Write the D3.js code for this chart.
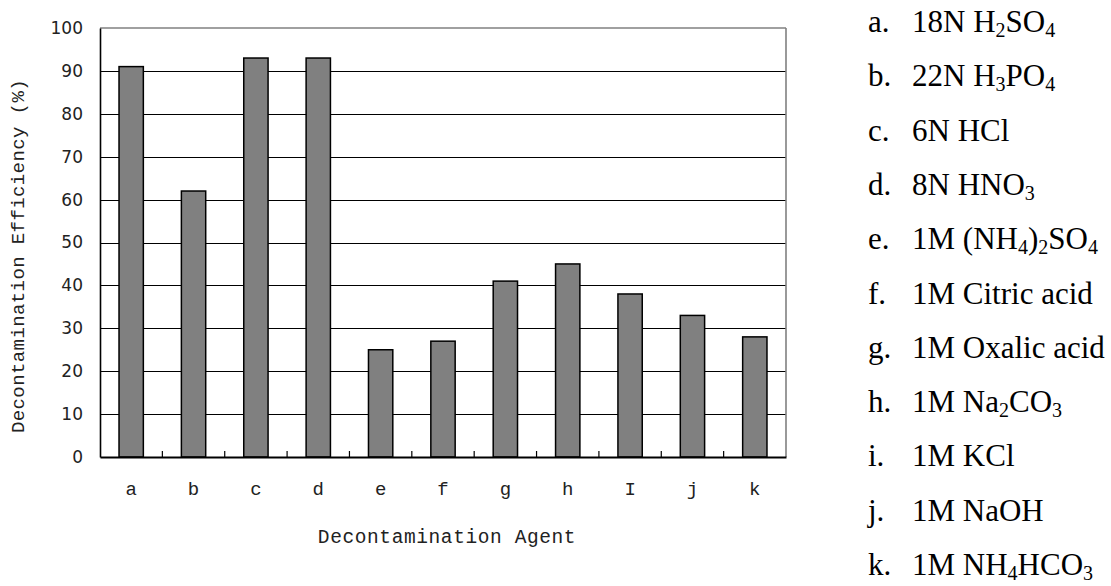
<!DOCTYPE html>
<html>
<head>
<meta charset="utf-8">
<script src="https://cdn.jsdelivr.net/npm/d3@7"></script>
<style>
html, body { margin: 0; padding: 0; background: #fff; }
svg { display: block; }
</style>
</head>
<body>
<svg id="chart" width="1111" height="586"></svg>
<script>
// ---- data ----
const categories = ["a", "b", "c", "d", "e", "f", "g", "h", "I", "j", "k"];
const values = [91, 62, 93, 93, 25, 27, 41, 45, 38, 33, 28];
const yTicks = [0, 10, 20, 30, 40, 50, 60, 70, 80, 90, 100];
const legendKeys = ["a.", "b.", "c.", "d.", "e.", "f.", "g.", "h.", "i.", "j.", "k."];
const legendLabels = [
  "18N H_2SO_4",
  "22N H_3PO_4",
  "6N HCl",
  "8N HNO_3",
  "1M (NH_4)_2SO_4",
  "1M Citric acid",
  "1M Oxalic acid",
  "1M Na_2CO_3",
  "1M KCl",
  "1M NaOH",
  "1M NH_4HCO_3"
];
const xTitle = "Decontamination Agent";
const yTitle = "Decontamination Efficiency (%)";

// ---- layout ----
const plot = { left: 100, right: 786, top: 28, bottom: 457 };
const svg = d3.select("#chart");

const x = d3.scaleBand()
  .domain(categories)
  .range([plot.left, plot.right])
  .paddingInner(0.61)
  .paddingOuter(0.305);

const xCat = d3.scaleBand().domain(categories).range([plot.left, plot.right]).padding(0);

const y = d3.scaleLinear().domain([0, 100]).range([plot.bottom, plot.top]);

// gridlines
svg.append("g")
  .selectAll("line")
  .data(yTicks.filter(t => t > 0 && t < 100))
  .join("line")
  .attr("x1", plot.left)
  .attr("x2", plot.right)
  .attr("y1", d => Math.round(y(d)) + 0.5)
  .attr("y2", d => Math.round(y(d)) + 0.5)
  .attr("stroke", "#000")
  .attr("stroke-width", 1);

// top & right border (gray)
svg.append("line")
  .attr("x1", plot.left).attr("x2", plot.right)
  .attr("y1", y(100)).attr("y2", y(100))
  .attr("stroke", "#808080").attr("stroke-width", 1.6);
svg.append("line")
  .attr("x1", plot.right).attr("x2", plot.right)
  .attr("y1", y(100)).attr("y2", y(0))
  .attr("stroke", "#808080").attr("stroke-width", 1.6);

// bars
svg.append("g")
  .selectAll("rect")
  .data(values)
  .join("rect")
  .attr("x", (d, i) => x(categories[i]))
  .attr("width", x.bandwidth())
  .attr("y", d => y(d))
  .attr("height", d => y(0) - y(d))
  .attr("fill", "#808080")
  .attr("stroke", "#000")
  .attr("stroke-width", 1.5);

// y axis
const yAxis = d3.axisLeft(y).tickValues(yTicks).tickSize(0).tickPadding(17);
const yg = svg.append("g").attr("transform", `translate(${plot.left},0)`).call(yAxis);
yg.select(".domain").attr("stroke", "#000").attr("stroke-width", 1.6);
yg.selectAll("text")
  .attr("font-family", "DejaVu Sans")
  .attr("font-size", 17)
  .attr("fill", "#222");

// x axis
const xAxis = d3.axisBottom(xCat).tickSize(0).tickPadding(25);
const xg = svg.append("g").attr("transform", `translate(0,${plot.bottom})`).call(xAxis);
xg.select(".domain").attr("stroke", "#000").attr("stroke-width", 2);
xg.selectAll("text")
  .attr("font-family", "Liberation Mono")
  .attr("font-size", 19)
  .attr("fill", "#222");

// interior tick marks at category boundaries (pointing up)
svg.append("g")
  .selectAll("line")
  .data(categories.slice(1))
  .join("line")
  .attr("x1", d => xCat(d))
  .attr("x2", d => xCat(d))
  .attr("y1", plot.bottom)
  .attr("y2", plot.bottom - 6)
  .attr("stroke", "#000")
  .attr("stroke-width", 1.2);

// axis titles
svg.append("text")
  .attr("x", 447)
  .attr("y", 543)
  .attr("text-anchor", "middle")
  .attr("font-family", "Liberation Mono")
  .attr("font-size", 19.5)
  .attr("letter-spacing", 0.6)
  .attr("fill", "#222")
  .text(xTitle);

svg.append("text")
  .attr("transform", "translate(24,256) rotate(-90)")
  .attr("text-anchor", "middle")
  .attr("font-family", "Liberation Mono")
  .attr("font-size", 19)
  .attr("letter-spacing", 0.4)
  .attr("fill", "#222")
  .text(yTitle);

// legend
const legend = svg.append("g");
const rowY = d3.scalePoint().domain(legendKeys).range([32, 575]);
legendKeys.forEach((k, i) => {
  legend.append("text")
    .attr("x", 868)
    .attr("y", rowY(k))
    .attr("font-family", "Liberation Serif")
    .attr("font-size", 31)
    .attr("fill", "#000")
    .text(k);
  const t = legend.append("text")
    .attr("x", 912)
    .attr("y", rowY(k))
    .attr("font-family", "Liberation Serif")
    .attr("font-size", 31)
    .attr("fill", "#000");
  const parts = legendLabels[i].split(/(_\d)/).filter(s => s.length);
  let shifted = false;
  parts.forEach(p => {
    if (p.startsWith("_")) {
      t.append("tspan").attr("font-size", 20).attr("dy", shifted ? 0 : 5).text(p.slice(1));
      shifted = true;
    } else {
      t.append("tspan").attr("dy", shifted ? -5 : 0).text(p);
      shifted = false;
    }
  });
});
</script>
</body>
</html>
